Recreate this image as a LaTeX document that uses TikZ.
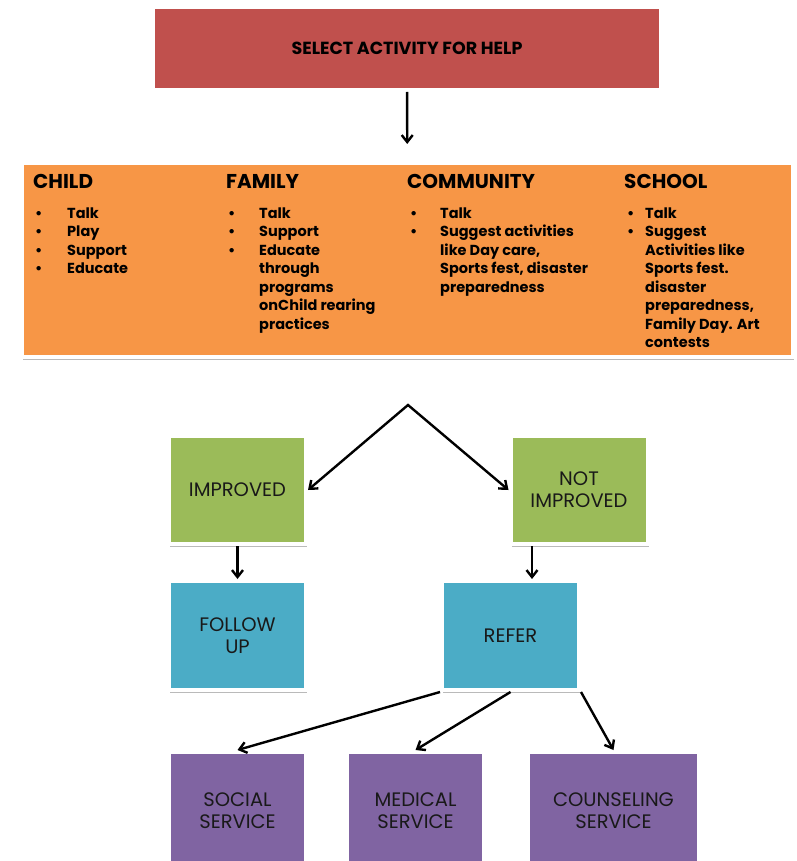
\documentclass[tikz,border=0pt]{standalone}
\usepackage{fontspec}
\setmainfont{Poppins}
\usetikzlibrary{shapes.geometric, arrows.meta, shadows}
\definecolor{selectred}{RGB}{192,80,77}
\definecolor{actorange}{RGB}{247,150,70}
\definecolor{resultgreen}{RGB}{155,187,89}
\definecolor{actionblue}{RGB}{75,172,198}
\definecolor{servicepurple}{RGB}{128,100,162}
\tikzstyle{box} = [rectangle, draw=white, line width=4pt, text centered, align=center, text=black!90, font=\fontsize{19.5}{22}\selectfont, drop shadow={shadow xshift=1pt, shadow yshift=-2.5pt, opacity=0.45, fill=black!60}]
\tikzstyle{selectbox} = [box, fill=selectred, minimum width=508pt, minimum height=83pt, text=black, font=\bfseries\fontsize{17.5}{20}\selectfont]
\tikzstyle{activitybox} = [box, fill=actorange, minimum width=771pt, minimum height=194pt]
\tikzstyle{resultbox} = [box, fill=resultgreen, minimum width=137pt, minimum height=108pt]
\tikzstyle{actionbox} = [box, fill=actionblue, minimum width=137pt, minimum height=109pt]
\tikzstyle{servicebox} = [box, fill=servicepurple, minimum width=137pt, minimum height=118pt]
\tikzstyle{heading} = [anchor=base west, inner sep=0pt, font=\bfseries\fontsize{20}{24}\selectfont]
\tikzstyle{itemlist} = [anchor=base west, inner sep=0pt, font=\bfseries\fontsize{14.5}{18.5}\selectfont]
\tikzstyle{arrow} = [line width=2.4pt, >={Straight Barb[length=7pt,width=11pt]}, ->]
\newcommand{\actlist}[2]{\begin{tabular}[t]{@{}p{#1}@{}l@{}}#2\end{tabular}}

\begin{document}
\begin{tikzpicture}
[x=1pt, y=-1pt]
\useasboundingbox (0,0) rectangle (796,861);
\clip (0,0) rectangle (796,861);

\node (select) [selectbox] at (407,48.5) {SELECT ACTIVITY FOR HELP};
\node (activities) [activitybox] at (407.5,260) {};

% the four groups
\node (child) [heading] at (33,188) {CHILD};
\node (childlist) [itemlist] at (35,218) {\actlist{32pt}{\textbullet & Talk\\ \textbullet & Play\\ \textbullet & Support\\ \textbullet & Educate}};
\node (family) [heading] at (226,188) {FAMILY};
\node (familylist) [itemlist] at (228,218) {\actlist{31pt}{\textbullet & Talk\\ \textbullet & Support\\ \textbullet & Educate\\ & through\\ & programs\\ & onChild rearing\\ & practices}};
\node (community) [heading] at (407,188) {COMMUNITY};
\node (communitylist) [itemlist] at (410,218) {\actlist{30pt}{\textbullet & Talk\\ \textbullet & Suggest activities\\ & like Day care,\\ & Sports fest, disaster\\ & preparedness}};
\node (school) [heading] at (624,188) {SCHOOL};
\node (schoollist) [itemlist] at (627,218) {\actlist{18pt}{\textbullet & Talk\\ \textbullet & Suggest\\ & Activities like\\ & Sports fest.\\ & disaster\\ & preparedness,\\ & Family Day. Art\\ & contests}};

\coordinate (split) at (408,405);
\node (improved) [resultbox] at (237.5,490) {IMPROVED};
\node (notimproved) [resultbox] at (579,490) {NOT\\IMPROVED};
\node (followup) [actionbox] at (237.5,635.5) {FOLLOW\\UP};
\node (refer) [actionbox] at (510.5,635.5) {REFER};
\node (social) [servicebox] at (237.5,811) {SOCIAL\\SERVICE};
\node (medical) [servicebox] at (415.5,811) {MEDICAL\\SERVICE};
\node (counseling) [servicebox, minimum width=171pt] at (613.5,811) {COUNSELING\\SERVICE};

\draw [arrow, shorten >=17pt] (select) -- (activities);
\draw [arrow, <->] (improved.east) -- (split) -- (notimproved.west);
\draw [arrow] (improved) -- (followup);
\draw [arrow] ([xshift=-47pt]notimproved.south) -- ([xshift=21.5pt]refer.north);
\draw [arrow] (refer.south west) -- (social.north);
\draw [arrow] (refer.south) -- (medical.north);
\draw [arrow] (refer.south east) -- (counseling.north);

\end{tikzpicture}
\end{document}
